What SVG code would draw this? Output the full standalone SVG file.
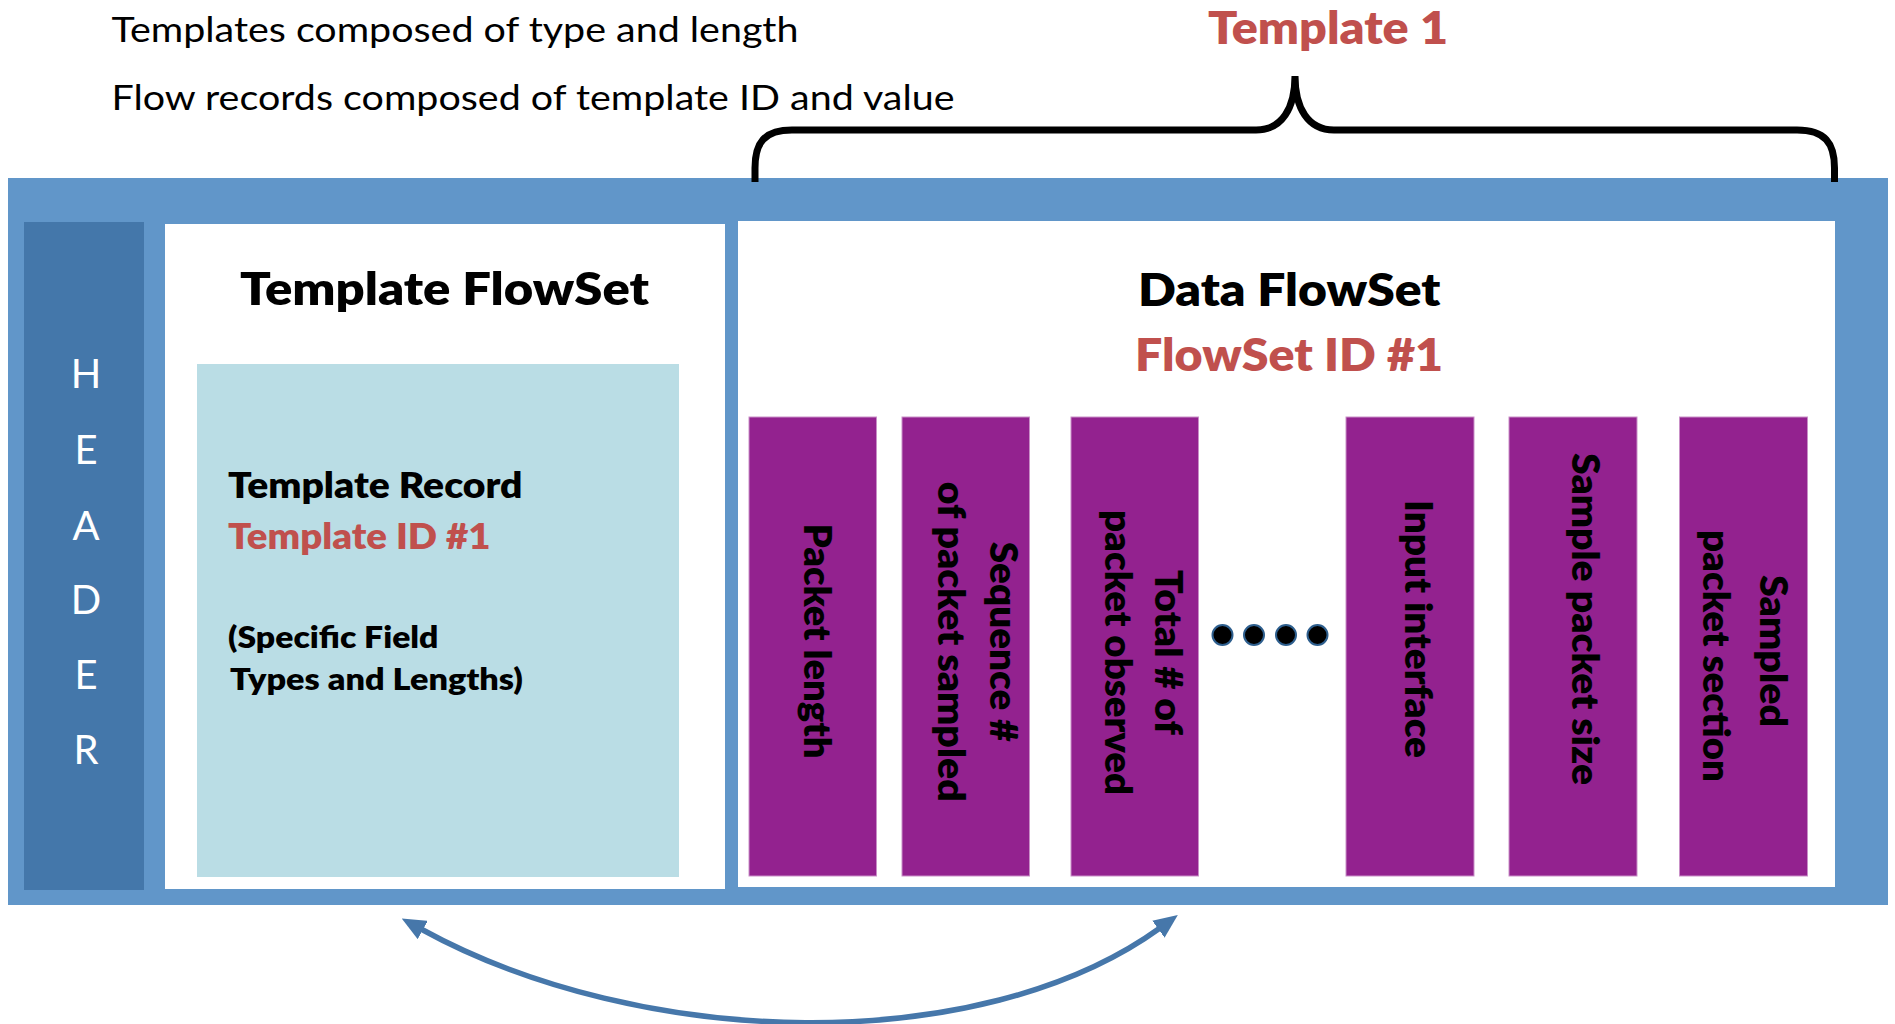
<svg xmlns="http://www.w3.org/2000/svg" width="1895" height="1024" viewBox="0 0 1895 1024">
  <style>
    .note { font-family: Lato, "Liberation Sans", sans-serif; font-size: 34px; fill: #000; }
    .title { font-family: Lato, "Liberation Sans", sans-serif; font-weight: 800; font-size: 46px; fill: #000; }
    .rec { font-family: Lato, "Liberation Sans", sans-serif; font-weight: 800; font-size: 36px; fill: #000; }
    .small { font-family: Lato, "Liberation Sans", sans-serif; font-weight: 800; font-size: 31px; fill: #000; }
    .hdr { font-family: Lato, "Liberation Sans", sans-serif; font-size: 40px; fill: #FFFFFF; text-anchor: middle; }
    .field { fill: #93228F; stroke: #C98FC7; stroke-width: 1; }
    .flabel { font-family: Lato, "Liberation Sans", sans-serif; font-weight: 800; font-size: 37px; fill: #000; text-anchor: middle; }
    .dot { fill: #000; stroke: #2E5F8E; stroke-width: 2; }
    text.red { fill: #C0504D; }
  </style>
  <defs>
    <marker id="head" markerUnits="userSpaceOnUse" viewBox="0 0 24 21" markerWidth="24" markerHeight="21" refX="2" refY="10.5" orient="auto-start-reverse">
      <path d="M0,0 L24,10.5 L0,21 Z" fill="#4677AA"/>
    </marker>
  </defs>

  <rect width="1895" height="1024" fill="#FFFFFF"/>

  <!-- captions -->
  <g id="notes">
    <text class="note" x="111.5" y="41.5" textLength="687" lengthAdjust="spacingAndGlyphs">Templates composed of type and length</text>
    <text class="note" x="111.5" y="110" textLength="843" lengthAdjust="spacingAndGlyphs">Flow records composed of template ID and value</text>
  </g>

  <!-- export packet frame -->
  <g id="packet">
    <rect x="8" y="178" width="1880" height="727" fill="#6196C9"/>
  </g>

  <!-- brace over the data flowset -->
  <g id="template1">
    <path d="M755 182 L755 168 C755 143 764 130 792 130 L1256 130 C1282 130 1295 108 1295 76 C1295 108 1308 130 1334 130 L1797 130 C1825 130 1834.5 143 1834.5 168 L1834.5 182" fill="none" stroke="#000" stroke-width="7"/>
    <text class="title red" x="1208" y="44.3" textLength="240" lengthAdjust="spacingAndGlyphs">Template 1</text>
  </g>

  <g id="header">
    <rect x="24" y="222" width="120" height="668" fill="#4477AA"/>
    <text class="hdr" x="86" y="387.5">H</text>
    <text class="hdr" x="86" y="464">E</text>
    <text class="hdr" x="86" y="539.5">A</text>
    <text class="hdr" x="86" y="613.5">D</text>
    <text class="hdr" x="86" y="688.5">E</text>
    <text class="hdr" x="86" y="763.5">R</text>
  </g>

  <g id="template-flowset">
    <rect x="165" y="224" width="560" height="665" fill="#FFFFFF"/>
    <text class="title" x="240" y="305" textLength="409" lengthAdjust="spacingAndGlyphs">Template FlowSet</text>
  </g>

  <g id="template-record">
    <rect x="197" y="364" width="482" height="513" fill="#BADDE5"/>
    <text class="rec" x="228" y="498" textLength="294.5" lengthAdjust="spacingAndGlyphs">Template Record</text>
    <text class="rec red" x="228" y="549" textLength="262.5" lengthAdjust="spacingAndGlyphs">Template ID #1</text>
    <text class="small" x="228" y="648" textLength="210.5" lengthAdjust="spacingAndGlyphs">(Specific Field</text>
    <text class="small" x="230" y="690" textLength="293" lengthAdjust="spacingAndGlyphs">Types and Lengths)</text>
  </g>

  <g id="data-flowset">
    <rect x="738" y="221" width="1097" height="666" fill="#FFFFFF"/>
    <text class="title" x="1138" y="305.7" textLength="302.5" lengthAdjust="spacingAndGlyphs">Data FlowSet</text>
    <text class="title red" x="1135" y="371" textLength="308" lengthAdjust="spacingAndGlyphs">FlowSet ID #1</text>
  </g>

  <!-- data fields, labels read top to bottom -->
  <g id="field-packet-length">
    <rect class="field" x="749" y="417" width="127.5" height="459"/>
    <text class="flabel" transform="translate(804 641) rotate(90)" textLength="235" lengthAdjust="spacingAndGlyphs">Packet length</text>
  </g>
  <g id="field-sequence">
    <rect class="field" x="902" y="417" width="127.5" height="459"/>
    <text class="flabel" transform="translate(989.5 641.7) rotate(90)" textLength="200" lengthAdjust="spacingAndGlyphs">Sequence #</text>
    <text class="flabel" transform="translate(937.5 641.7) rotate(90)" textLength="320" lengthAdjust="spacingAndGlyphs">of packet sampled</text>
  </g>
  <g id="field-total">
    <rect class="field" x="1071" y="417" width="127.5" height="459"/>
    <text class="flabel" transform="translate(1155 652.5) rotate(90)" textLength="165" lengthAdjust="spacingAndGlyphs">Total # of</text>
    <text class="flabel" transform="translate(1105 652.5) rotate(90)" textLength="285" lengthAdjust="spacingAndGlyphs">packet observed</text>
  </g>

  <g id="ellipsis">
    <circle class="dot" cx="1222.5" cy="635" r="10"/>
    <circle class="dot" cx="1254" cy="635" r="10"/>
    <circle class="dot" cx="1286" cy="635" r="10"/>
    <circle class="dot" cx="1317.5" cy="635" r="10"/>
  </g>

  <g id="field-input">
    <rect class="field" x="1346" y="417" width="128" height="459"/>
    <text class="flabel" transform="translate(1405 629) rotate(90)" textLength="258" lengthAdjust="spacingAndGlyphs">Input interface</text>
  </g>
  <g id="field-sample-size">
    <rect class="field" x="1509" y="417" width="128" height="459"/>
    <text class="flabel" transform="translate(1572 619) rotate(90)" textLength="332" lengthAdjust="spacingAndGlyphs">Sample packet size</text>
  </g>
  <g id="field-sampled-section">
    <rect class="field" x="1679.5" y="417" width="128" height="459"/>
    <text class="flabel" transform="translate(1760 651) rotate(90)" textLength="152" lengthAdjust="spacingAndGlyphs">Sampled</text>
    <text class="flabel" transform="translate(1703 656) rotate(90)" textLength="252" lengthAdjust="spacingAndGlyphs">packet section</text>
  </g>

  <!-- link between template and data flowsets -->
  <g id="connectors">
    <path d="M421 929 C641 1050 980 1058 1160 928" fill="none" stroke="#4677AA" stroke-width="5.5" marker-start="url(#head)" marker-end="url(#head)"/>
  </g>
</svg>
